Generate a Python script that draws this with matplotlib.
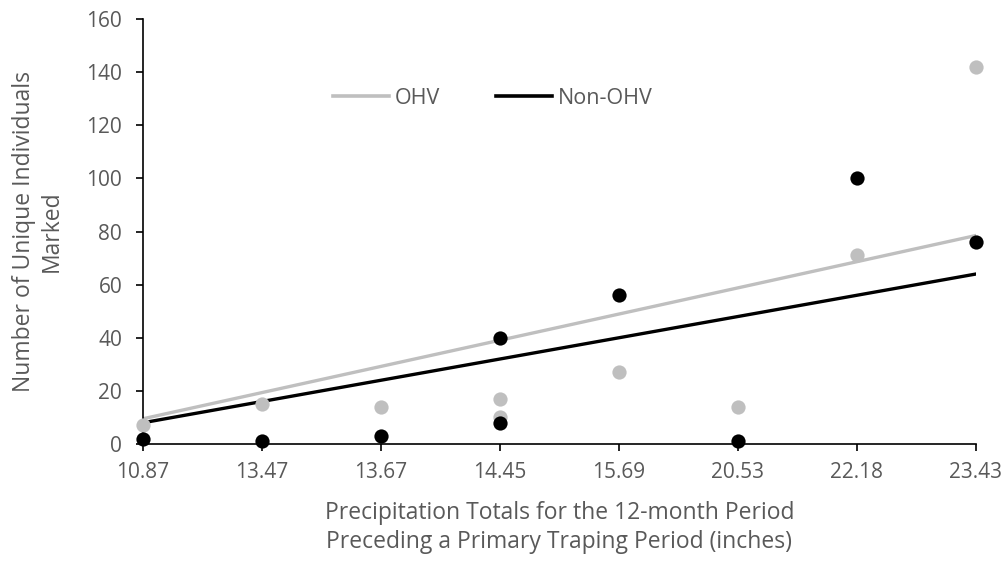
import matplotlib
matplotlib.use("Agg")
import matplotlib.pyplot as plt
from matplotlib.lines import Line2D

categories = ["10.87", "13.47", "13.67", "14.45", "15.69", "20.53", "22.18", "23.43"]
# point positions (category index) and values
ohv_idx = [0, 1, 2, 3, 3, 4, 5, 6, 7]
ohv_vals = [7, 15, 14, 17, 10, 27, 14, 71, 142]
non_idx = [0, 1, 2, 3, 3, 4, 5, 6, 7]
non_vals = [2, 1, 3, 40, 8, 56, 1, 100, 76]
# linear trendline values at first and last category
ohv_trend = [9.5, 78.5]
non_trend = [8, 64]
yticks = [0, 20, 40, 60, 80, 100, 120, 140, 160]

plt.rcParams['font.family'] = ['Open Sans', 'DejaVu Sans']
gray = "#BFBFBF"
txt = "#595959"

W, H = 1004, 563
fig = plt.figure(figsize=(W/100, H/100), dpi=100)
left, right, top, bottom = 143, 976, 19, 444
ax = fig.add_axes([left/W, 1-bottom/H, (right-left)/W, (bottom-top)/H])

ax.scatter(ohv_idx, ohv_vals, s=105, color=gray, zorder=3, linewidths=0, clip_on=False)
ax.scatter(non_idx, non_vals, s=105, color="black", zorder=4, linewidths=0, clip_on=False)
ax.plot([0, len(categories)-1], ohv_trend, color=gray, lw=2.4, zorder=2)
ax.plot([0, len(categories)-1], non_trend, color="black", lw=2.4, zorder=2)

ax.set_xlim(0, 7)
ax.set_ylim(0, 160)
ax.set_xticks(range(len(categories)))
ax.set_xticklabels(categories)
ax.set_yticks(yticks)
for s in ["top", "right"]:
    ax.spines[s].set_visible(False)
for s in ["left", "bottom"]:
    ax.spines[s].set_color("black")
    ax.spines[s].set_linewidth(1.2)
ax.tick_params(axis="both", direction="out", length=5, width=1.2, color="black",
               labelcolor=txt, labelsize=15)
ax.tick_params(axis="x", pad=8)
ax.tick_params(axis="y", pad=10)

ax.set_ylabel("Number of Unique Individuals\nMarked", fontsize=16.5, color=txt, labelpad=16, linespacing=1.25)
ax.set_xlabel("Precipitation Totals for the 12-month Period\nPreceding a Primary Traping Period (inches)",
              fontsize=16.5, color=txt, labelpad=13, linespacing=1.25)

handles = [Line2D([], [], color=gray, lw=2.6), Line2D([], [], color="black", lw=2.6)]
leg = ax.legend(handles, ["OHV", "Non-OHV"], loc="center", bbox_to_anchor=(0.42, 0.813),
                ncol=2, frameon=False, fontsize=15.5, handlelength=2.6, handletextpad=0.25,
                columnspacing=2.6, labelcolor=txt)

fig.savefig("out.png", dpi=100, facecolor="white")
